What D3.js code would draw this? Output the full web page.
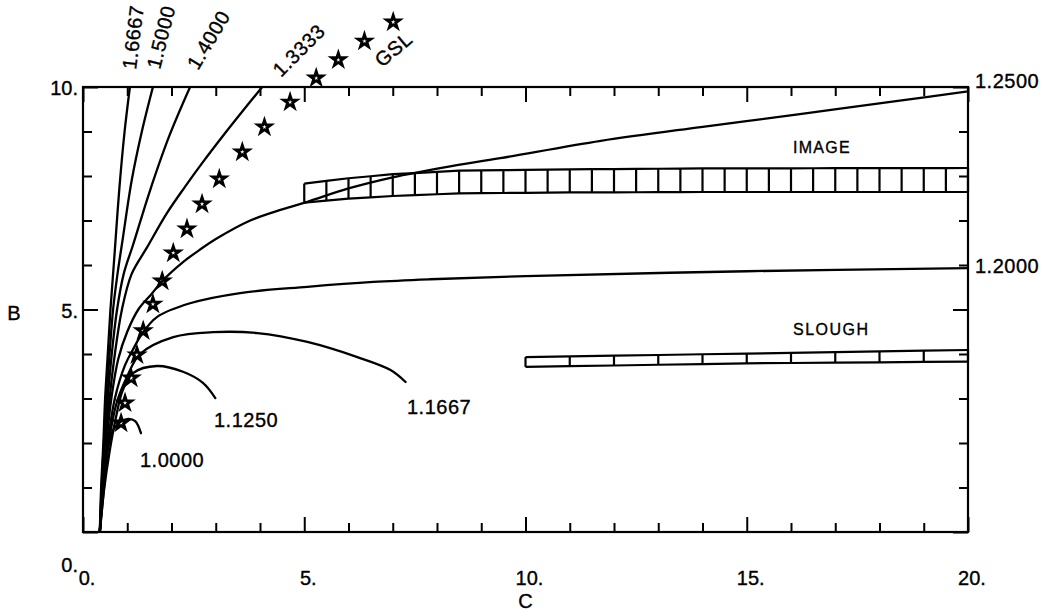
<!DOCTYPE html>
<html>
<head>
<meta charset="utf-8">
<script src="https://cdn.jsdelivr.net/npm/d3@7/dist/d3.min.js"></script>
<style>
  html, body { margin: 0; padding: 0; background: #fff; }
  svg { display: block; }
  text { font-family: "Liberation Sans", Arial, sans-serif; fill: #000; stroke: #000; stroke-width: 0.35px; }
</style>
</head>
<body>
<svg id="chart" width="1055" height="612"></svg>
<script>
// ---- Data: boundary curves B(C), one per ratio value ----
const curveNames = ["1.6667", "1.5000", "1.4000", "1.3333", "1.2500", "1.2000", "1.1667", "1.1250", "1.0000"];

const curve16667 = [[0.38,0],[0.41,1],[0.46,2],[0.50,3],[0.56,4],[0.62,5],[0.68,5.8],[0.72,6.34],[0.82,7.7],[0.94,9.0],[1.06,10]];
const curve15000 = [[0.38,0],[0.42,1],[0.47,2],[0.53,3],[0.60,4],[0.68,5],[0.78,5.8],[0.90,6.6],[1.10,7.9],[1.33,9.0],[1.58,10]];
const curve14000 = [[0.38,0],[0.43,1],[0.49,2],[0.56,3],[0.65,4],[0.77,5],[0.92,5.8],[1.13,6.45],[1.52,7.69],[1.95,8.9],[2.42,10]];
const curve13333 = [[0.38,0],[0.44,1],[0.51,2],[0.60,3],[0.72,4],[0.88,5],[1.10,5.8],[1.45,6.4],[1.90,7.17],[2.30,7.75],[2.70,8.3],[3.20,8.95],[3.60,9.45],[4.05,10]];
const curve12500 = [[0.38,0],[0.45,1],[0.53,2],[0.64,3],[0.80,3.9],[1.00,4.5],[1.25,5.0],[1.55,5.35],[1.79,5.64],[2.24,6.05],[2.65,6.35],[3.03,6.6],[3.78,7.0],[4.50,7.25],[5.07,7.42],[6.0,7.72],[7.0,7.97],[8.2,8.2],[9.43,8.40],[11.7,8.79],[13.96,9.10],[16.2,9.39],[18.5,9.70],[20,9.90]];
const curve12000 = [[0.38,0],[0.46,1],[0.56,2],[0.72,3],[0.95,3.75],[1.13,4.1],[1.33,4.45],[1.67,4.83],[2.42,5.14],[3.55,5.37],[5.07,5.51],[6.56,5.62],[7.85,5.68],[10,5.75],[15,5.86],[20,5.93]];
const curve11667 = [[0.38,0],[0.46,1],[0.58,2],[0.76,2.9],[0.99,3.48],[1.29,4.0],[2.04,4.38],[2.94,4.49],[3.94,4.47],[5.07,4.27],[6.2,3.93],[6.95,3.64],[7.29,3.37]];
const curve11250 = [[0.38,0],[0.47,0.9],[0.60,1.8],[0.75,2.6],[0.90,3.19],[1.13,3.57],[1.67,3.73],[2.26,3.60],[2.71,3.35],[2.99,3.01]];
const curve10000 = [[0.38,0],[0.45,0.72],[0.57,1.91],[0.68,2.29],[0.84,2.47],[1.02,2.54],[1.18,2.49],[1.31,2.22]];

const curveSeries = [curve16667, curve15000, curve14000, curve13333, curve12500, curve12000, curve11667, curve11250, curve10000];

// GSL locus, marked with stars
const gslC = [0.86, 0.95, 1.09, 1.22, 1.36, 1.58, 1.79, 2.04, 2.35, 2.69, 3.08, 3.60, 4.10, 4.68, 5.27, 5.77, 6.36, 7.01];
const gslB = [2.45, 2.90, 3.46, 3.98, 4.52, 5.12, 5.64, 6.27, 6.81, 7.37, 7.93, 8.54, 9.10, 9.66, 10.20, 10.61, 11.03, 11.46];

// IMAGE band: edges (C, B) and cell width in C
const imageEdgeC = [5, 6, 7, 8.5, 11, 14, 20];
const imageTopB = [7.83, 7.95, 8.04, 8.12, 8.15, 8.17, 8.18];
const imageBotB = [7.40, 7.49, 7.55, 7.61, 7.63, 7.64, 7.64];
const imageCellStep = 0.5;

// SLOUGH band
const sloughEdgeC = [10, 15, 20];
const sloughTopB = [3.93, 4.01, 4.09];
const sloughBotB = [3.71, 3.79, 3.83];
const sloughCellStep = 1;

// Axis ticks
const xMajor = [0, 5, 10, 15, 20];
const xTickLabels = ["0.", "5.", "10.", "15.", "20."];
const yMajor = [0, 5, 10];
const yTickLabels = ["0.", "5.", "10."];

// ---- Layout ----
const svg = d3.select("#chart");
const x = d3.scaleLinear().domain([0, 20]).range([83, 968]);
const y = d3.scaleLinear().domain([0, 10]).range([532, 87]);
const ink = "#000";

svg.append("defs").append("clipPath").attr("id", "plotClip")
  .append("rect").attr("x", x(0)).attr("y", y(10))
  .attr("width", x(20) - x(0)).attr("height", y(0) - y(10));

// frame
svg.append("rect")
  .attr("x", x(0)).attr("y", y(10))
  .attr("width", x(20) - x(0)).attr("height", y(0) - y(10))
  .attr("fill", "none").attr("stroke", ink).attr("stroke-width", 2.2);

// inward ticks on all four sides: minor every unit, longer at majors
const sides = [
  { ax: d3.axisBottom(x), pos: `translate(0,${y(0)})`, vals: d3.range(0, 21), dir: "y2", sign: -1 },
  { ax: d3.axisTop(x), pos: `translate(0,${y(10)})`, vals: d3.range(0, 21), dir: "y2", sign: 1 },
  { ax: d3.axisLeft(y), pos: `translate(${x(0)},0)`, vals: d3.range(0, 11), dir: "x2", sign: 1 },
  { ax: d3.axisRight(y), pos: `translate(${x(20)},0)`, vals: d3.range(0, 11), dir: "x2", sign: -1 }
];
sides.forEach(s => {
  const g = svg.append("g").attr("transform", s.pos)
    .call(s.ax.tickValues(s.vals).tickSizeInner(0).tickSizeOuter(0).tickFormat(""));
  g.select(".domain").remove();
  g.selectAll(".tick line")
    .attr("stroke", ink).attr("stroke-width", 2)
    .attr(s.dir, v => s.sign * ((v % 5 === 0) ? 15 : 9));
});

// tick labels
svg.append("g").selectAll("text").data(xMajor).join("text")
  .attr("x", d => x(d) + 4).attr("y", 585)
  .attr("text-anchor", "middle").attr("font-size", 20)
  .text((d, i) => xTickLabels[i]);

svg.append("g").selectAll("text").data(yMajor).join("text")
  .attr("x", 78).attr("y", d => y(d) + (d === 0 ? 40 : 8))
  .attr("text-anchor", "end").attr("font-size", 20)
  .text((d, i) => yTickLabels[i]);

svg.append("text").attr("x", x(10)).attr("y", 608)
  .attr("text-anchor", "middle").attr("font-size", 20).text("C");
svg.append("text").attr("x", 14).attr("y", 320)
  .attr("text-anchor", "middle").attr("font-size", 20).text("B");

// ---- Bands of cells ----
function drawBand(edgeC, topB, botB, step) {
  const top = d3.scaleLinear().domain(edgeC).range(topB);
  const bot = d3.scaleLinear().domain(edgeC).range(botB);
  const c0 = edgeC[0], c1 = edgeC[edgeC.length - 1];
  const bounds = d3.range(c0, c1 + step / 2, step);
  const g = svg.append("g").attr("fill", "none").attr("stroke", ink).attr("stroke-width", 2.2);
  g.append("path").attr("d", d3.line()(bounds.map(c => [x(c), y(top(c))])));
  g.append("path").attr("d", d3.line()(bounds.map(c => [x(c), y(bot(c))])));
  g.selectAll("line").data(bounds).join("line")
    .attr("x1", c => x(c)).attr("x2", c => x(c))
    .attr("y1", c => y(top(c))).attr("y2", c => y(bot(c)));
}
drawBand(imageEdgeC, imageTopB, imageBotB, imageCellStep);
drawBand(sloughEdgeC, sloughTopB, sloughBotB, sloughCellStep);

// ---- Curves ----
const line = d3.line()
  .x(d => x(d[0])).y(d => y(d[1]))
  .curve(d3.curveCatmullRom.alpha(0.5));

svg.append("g").attr("clip-path", "url(#plotClip)")
  .selectAll("path").data(curveSeries).join("path")
  .attr("d", line)
  .attr("fill", "none").attr("stroke", ink).attr("stroke-width", 2.3)
  .attr("stroke-linejoin", "round").attr("stroke-linecap", "round");

// ---- GSL stars ----
const star = d3.symbol().type(d3.symbolStar).size(52);
svg.append("g").selectAll("path").data(gslC).join("path")
  .attr("transform", (d, i) => `translate(${x(d)},${y(gslB[i])})`)
  .attr("d", star)
  .attr("fill", "none").attr("stroke", ink).attr("stroke-width", 2.8)
  .attr("stroke-linejoin", "miter");

// ---- Curve labels ----
function label(txt, px, py, angle) {
  svg.append("text")
    .attr("transform", `translate(${px},${py}) rotate(${angle})`)
    .attr("font-size", 20).attr("letter-spacing", 0.5)
    .text(txt);
}
// rotated labels along the upper edge, where the steep curves leave the frame
label(curveNames[0], 136, 70, -83);
label(curveNames[1], 160, 70, -76);
label(curveNames[2], 198, 71, -59);
label(curveNames[3], 281, 78, -45);
label("GSL", 382, 68, -40);
// labels at curve ends
label(curveNames[4], 975, 88, 0);
label(curveNames[5], 975, 273, 0);
label(curveNames[6], 407, 414, 0);
label(curveNames[7], 214, 427, 0);
label(curveNames[8], 140, 467, 0);

// band captions
svg.append("text").attr("x", 793).attr("y", 153)
  .attr("font-size", 16).attr("letter-spacing", 1.3).text("IMAGE");
svg.append("text").attr("x", 793).attr("y", 335)
  .attr("font-size", 16).attr("letter-spacing", 1.5).text("SLOUGH");
</script>
</body>
</html>
